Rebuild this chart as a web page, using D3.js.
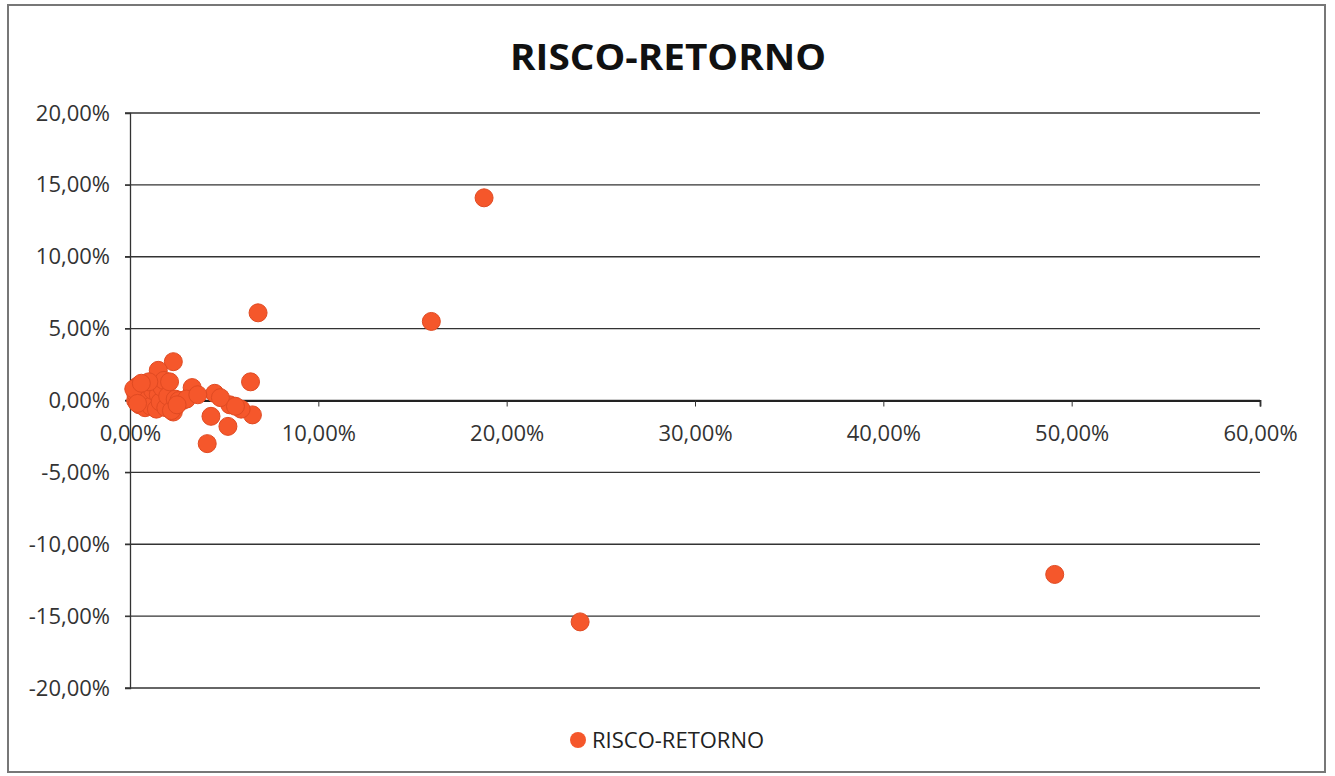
<!DOCTYPE html>
<html><head><meta charset="utf-8">
<script src="https://cdn.jsdelivr.net/npm/d3@7"></script>
<style>body{margin:0;background:#fff;}svg{display:block;}</style>
</head><body>
<svg id="c" width="1335" height="776"></svg>
<script>
// Risk (x, %) and return (y, %) of each asset
const risk = [18.8, 16.0, 6.8, 23.9, 49.1, 6.4, 4.1, 5.2, 4.3, 4.5, 3.3, 2.3, 6.5, 5.9, 5.3, 4.8, 2.8, 2.3,
  0.3, 0.3, 0.4, 0.5, 0.6, 0.7, 0.8, 0.9, 1.0, 1.1, 1.2, 1.3, 1.4, 1.5, 1.5, 1.6, 1.7, 1.8, 1.9, 2.0, 2.1, 2.2,
  2.4, 2.6, 0.2, 0.4, 1.0, 0.6, 3.0, 3.6, 5.6, 2.5];
const ret = [14.1, 5.5, 6.1, -15.4, -12.1, 1.3, -3.0, -1.8, -1.1, 0.5, 0.9, 2.7, -1.0, -0.6, -0.3, 0.2, 0.0, -0.8,
  0.0, 0.5, 1.0, -0.3, 0.3, 0.8, -0.5, 1.1, 0.2, -0.4, 0.7, 1.2, -0.6, 0.4, 2.1, -0.1, 0.9, 1.4, -0.5, 0.3, 1.3, -0.7,
  0.1, 0.0, 0.8, -0.2, 1.3, 1.2, 0.1, 0.4, -0.4, -0.3];
const xTicks = [0, 10, 20, 30, 40, 50, 60];
const yTicks = [-20, -15, -10, -5, 0, 5, 10, 15, 20];
const title = "RISCO-RETORNO";
const seriesName = "RISCO-RETORNO";

const fmt = v => v.toFixed(2).replace(".", ",") + "%";
const svg = d3.select("#c");
const font = "'Open Sans', sans-serif";

svg.append("rect").attr("x", 8).attr("y", 5).attr("width", 1317).attr("height", 767)
  .attr("fill", "#fff").attr("stroke", "#777").attr("stroke-width", 2);

const x = d3.scaleLinear().domain([0, 60]).range([130, 1260]);
const y = d3.scaleLinear().domain([-20, 20]).range([688, 113]);

// gridlines
svg.append("g").selectAll("line").data(yTicks).join("line")
  .attr("x1", 125).attr("x2", 1260).attr("y1", d => y(d)).attr("y2", d => y(d))
  .attr("stroke", "#333").attr("stroke-width", 1.3);

// y axis
const yAxis = d3.axisLeft(y).tickValues(yTicks).tickFormat(fmt).tickSize(5).tickPadding(15);
const gy = svg.append("g").attr("transform", "translate(130,0)").call(yAxis);
gy.select(".domain").attr("stroke", "#333").attr("stroke-width", 1.3);
gy.selectAll("line").attr("stroke", "#333");
gy.selectAll("text").attr("font-family", font).attr("font-size", 22).attr("fill", "#333");

// x axis at y=0
const xAxis = d3.axisBottom(x).tickValues(xTicks).tickFormat(fmt).tickSize(6).tickPadding(19);
const gx = svg.append("g").attr("transform", `translate(0,${y(0)})`).call(xAxis);
gx.select(".domain").attr("stroke", "#222").attr("stroke-width", 1.8);
gx.selectAll("line").attr("stroke", "#333");
gx.selectAll("text").attr("font-family", font).attr("font-size", 22).attr("fill", "#333");

// points
const pts = risk.map((r, i) => ({r, v: ret[i]}));
svg.append("g").selectAll("circle").data(pts).join("circle")
  .attr("cx", d => x(d.r)).attr("cy", d => y(d.v)).attr("r", 9)
  .attr("fill", "#f5572b").attr("stroke", "#e04a22").attr("stroke-width", 1);

// title
svg.append("text").attr("x", 668).attr("y", 70).attr("text-anchor", "middle")
  .attr("font-family", font).attr("font-weight", "bold").attr("font-size", 35).attr("fill", "#111")
  .attr("textLength", 316).attr("lengthAdjust", "spacingAndGlyphs")
  .text(title);

// legend
svg.append("circle").attr("cx", 578).attr("cy", 740).attr("r", 8).attr("fill", "#f5572b");
svg.append("text").attr("x", 592).attr("y", 748).attr("font-family", font).attr("font-size", 22)
  .attr("fill", "#222").text(seriesName);
</script>
</body></html>
